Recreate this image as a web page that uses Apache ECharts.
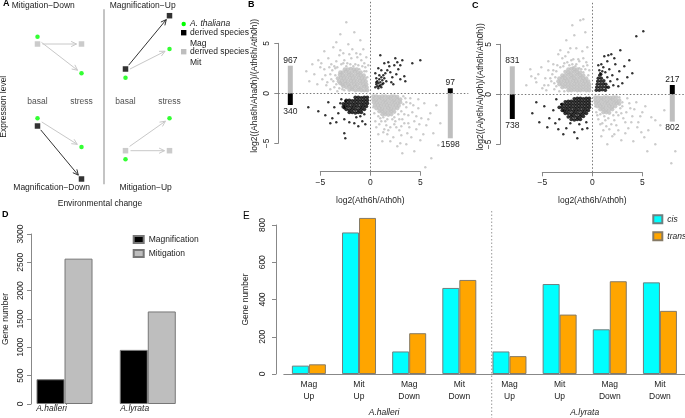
<!DOCTYPE html>
<html>
<head>
<meta charset="utf-8">
<script src="https://cdn.jsdelivr.net/npm/echarts@6.0.0/dist/echarts.min.js"></script>
<style>
html, body { margin: 0; padding: 0; background: #fff; }
#chart { width: 685px; height: 418px; }
</style>
</head>
<body>
<div id="chart"></div>
<script>
// ---- A: schematic, x = 1 basal / 2 stress (left half), 3 basal / 4 stress (right half)
const aConditions = ['basal', 'stress', 'basal', 'stress'];
const aThaliana = [[1, 6.06], [2, 2.4], [3, 1.96], [4, 4.83], [1, -2.1], [2, -4.97], [3, -6.2], [4, -2.1]];
const aDerivedMag = [[3, 2.83], [4, 8.16], [1, -2.87], [2, -8.17]];
const aDerivedMit = [[1, 5.33], [2, 5.33], [3, -5.34], [4, -5.34]];
// [x1, y1, x2, y2]
const aArrowsDark = [[3, 2.83, 4, 8.16], [1, -2.87, 2, -8.17]];
const aArrowsLight = [[1, 5.33, 2, 5.33], [1, 5.8, 2, 2.4], [3, 2.6, 4, 4.83], [1, -2.2, 2, -4.97], [3, -5.34, 4, -5.34], [3, -5.2, 4, -2.1]];

// ---- B: A.halleri vs A.thaliana (sparse genes + dense cores)
const bGrayUp = [[-2.4,7.1],[-3.0,5.9],[-1.6,6.1],[-4.6,4.2],[-5.2,3.3],[-3.7,4.6],[-2.2,4.9],[-1.0,5.3],[-0.7,4.4],[-1.4,4.0],[-3.1,3.8],[-4.2,3.5],[-5.0,2.6],[-5.6,1.9],[-4.8,1.4],[-6.1,1.2],[-4.4,0.8],[-3.6,0.6],[-2.8,0.4],[-6.4,2.2],[-3.4,5.1],[-0.4,3.6],[-0.9,3.3],[-1.9,3.5],[-2.6,3.3],[-3.9,2.9],[-4.6,2.4],[-5.3,0.9],
  [-3.8,2.3],[-3.5,1.8],[-3.3,2.6],[-2.9,2.9],[-2.4,2.7],[-2.0,2.9],[-1.7,2.7],[-1.1,2.4],[-3.6,2.7],[-4.0,1.9],[-2.7,3.0],[-1.2,2.8],[-0.6,2.2],[-0.5,2.6],[-3.4,0.9],[-3.9,1.4],
  [-3.5,2.5],[-3.7,1.2],[-4.1,2.6],[-4.3,1.1],[-3.4,3.2],[-2.3,3.0],[-1.5,2.9],[-0.8,2.7],[-0.4,2.2],[-0.3,1.6],[-2.6,0.3],[-3.1,0.5],[-4.5,1.8],[-4.9,3.0],[-3.0,4.3],[-1.8,4.4],[-2.7,4.0],[-0.6,3.0],[-1.3,3.6],[-2.1,3.9],[-5.8,2.9],[-3.3,0.2],[-4.0,0.4],[-0.2,2.8],[-1.0,3.9]];
const bGrayUpCore = [[-0.3,0.3],[-0.6,0.3],[-0.9,0.3],[-1.2,0.35],[-1.5,0.3],[-1.8,0.4],[-2.1,0.35],
  [-0.35,0.6],[-0.6,0.65],[-0.9,0.6],[-1.2,0.6],[-1.5,0.65],[-1.8,0.6],[-2.1,0.7],[-2.4,0.6],[-2.7,0.7],
  [-0.4,0.9],[-0.7,0.9],[-1.0,0.95],[-1.3,0.9],[-1.6,0.9],[-1.9,0.95],[-2.2,0.9],[-2.5,0.95],[-2.8,0.9],[-3.0,1.0],
  [-0.45,1.2],[-0.75,1.2],[-1.05,1.25],[-1.35,1.2],[-1.65,1.2],[-1.95,1.25],[-2.25,1.2],[-2.55,1.2],[-2.85,1.25],[-3.15,1.2],
  [-0.55,1.5],[-0.85,1.5],[-1.15,1.55],[-1.45,1.5],[-1.75,1.5],[-2.05,1.55],[-2.35,1.5],[-2.65,1.5],[-2.95,1.55],[-3.25,1.5],
  [-0.65,1.8],[-0.95,1.8],[-1.25,1.85],[-1.55,1.8],[-1.85,1.8],[-2.15,1.85],[-2.45,1.8],[-2.75,1.8],[-3.05,1.85],
  [-0.95,2.1],[-1.25,2.1],[-1.55,2.15],[-1.85,2.1],[-2.15,2.1],[-2.45,2.15],[-2.75,2.1],[-3.0,2.1],
  [-1.35,2.4],[-1.65,2.4],[-1.95,2.45],[-2.25,2.4],[-2.55,2.4]];
const bGrayDown = [[0.5,-2.8],[0.9,-3.1],[1.1,-2.8],[1.6,-3.2],[2.0,-3.4],[1.4,-3.6],[2.4,-3.1],[2.5,-2.8],[3.2,-2.6],[3.1,-1.8],[3.3,-1.1],[2.8,-2.1],[1.7,-2.6],[1.3,-2.4],[0.8,-2.3],
  [3.5,-0.5],[3.6,-1.4],[3.8,-2.2],[3.4,-3.0],[2.9,-3.7],[4.0,-1.0],[4.2,-1.9],[4.4,-2.8],[3.9,-3.4],[3.1,-4.2],[2.3,-4.4],[1.7,-4.1],[4.8,-1.5],[4.6,-3.6],[5.1,-2.5],[4.1,-4.4],[5.4,-1.0],[5.6,-3.2],[3.6,-5.1],[2.7,-5.3],[5.0,-4.7],[6.0,-2.0],[6.3,-4.0],[4.4,-5.8],[6.8,-5.2],[6.1,-6.5],[5.5,-7.4],[3.2,-6.0],[1.2,-4.8],[0.8,-4.1],[7.0,-3.0],[6.6,-1.2],
  [3.3,-0.3],[3.6,-0.9],[3.4,-2.1],[2.9,-2.6],[2.2,-2.6],[1.0,-2.5],[0.4,-2.0],[0.3,-1.4],[2.6,-3.4],[1.8,-3.7],[3.8,-3.0],[4.3,-1.2],[4.6,-2.3],[3.7,-4.0],[2.0,-4.8],[4.9,-3.1],[5.3,-4.1],[4.0,-0.5],[3.1,-3.3],[2.4,-2.4],[1.5,-2.8],[0.6,-3.4],[5.8,-2.6],[4.8,-0.6],[1.3,-3.9],[3.0,-5.0]];
const bGrayDownCore = [[0.3,-0.3],[0.6,-0.3],[0.9,-0.35],[1.2,-0.3],[1.5,-0.3],[1.8,-0.35],[2.1,-0.3],[2.4,-0.3],[2.7,-0.35],
  [0.3,-0.6],[0.6,-0.65],[0.9,-0.6],[1.2,-0.6],[1.5,-0.65],[1.8,-0.6],[2.1,-0.6],[2.4,-0.65],[2.7,-0.6],[3.0,-0.6],
  [0.35,-0.9],[0.65,-0.9],[0.95,-0.95],[1.25,-0.9],[1.55,-0.9],[1.85,-0.95],[2.15,-0.9],[2.45,-0.9],[2.75,-0.95],[3.0,-0.9],
  [0.45,-1.2],[0.75,-1.2],[1.05,-1.25],[1.35,-1.2],[1.65,-1.2],[1.95,-1.25],[2.25,-1.2],[2.55,-1.2],[2.85,-1.25],
  [0.6,-1.5],[0.9,-1.5],[1.2,-1.55],[1.5,-1.5],[1.8,-1.5],[2.1,-1.55],[2.4,-1.5],[2.7,-1.5],
  [0.9,-1.8],[1.2,-1.8],[1.5,-1.85],[1.8,-1.8],[2.1,-1.8],[2.4,-1.85],
  [1.2,-2.1],[1.5,-2.1],[1.8,-2.15],[2.1,-2.1]];
const bBlackDown = [[-1.0,-2.3],[-0.6,-2.1],[-1.4,-2.4],[-2.6,-1.5],[-2.5,-0.8],
  [-3.0,-1.0],[-3.2,-2.0],[-3.6,-1.4],[-4.2,-0.9],[-4.5,-2.2],[-5.2,-1.8],[-6.2,-1.4],[-2.6,-2.6],[-2.1,-2.9],[-1.6,-3.0],[-0.8,-2.8],[-0.5,-3.1],[-2.6,-4.0],[-2.5,-4.5],[-3.4,-2.9],[-4.0,-3.0],[-1.2,-3.3],[-2.9,-0.6],[-3.8,-2.5]];
const bBlackDownCore = [[-0.3,-0.4],[-0.6,-0.4],[-0.9,-0.45],[-1.2,-0.4],[-1.5,-0.4],
  [-0.3,-0.7],[-0.6,-0.7],[-0.9,-0.75],[-1.2,-0.7],[-1.5,-0.7],[-1.8,-0.75],[-2.1,-0.7],[-2.4,-0.7],
  [-0.3,-1.0],[-0.6,-1.0],[-0.9,-1.05],[-1.2,-1.0],[-1.5,-1.0],[-1.8,-1.05],[-2.1,-1.0],[-2.4,-1.0],[-2.7,-1.05],
  [-0.4,-1.3],[-0.7,-1.3],[-1.0,-1.35],[-1.3,-1.3],[-1.6,-1.3],[-1.9,-1.35],[-2.2,-1.3],[-2.5,-1.3],[-2.7,-1.35],
  [-0.6,-1.6],[-0.9,-1.6],[-1.2,-1.65],[-1.5,-1.6],[-1.8,-1.6],[-2.1,-1.65],[-2.4,-1.6],
  [-0.9,-1.9],[-1.2,-1.9],[-1.5,-1.95],[-1.8,-1.9],[-2.1,-1.9]];
const bBlackUp = [[0.5,0.6],[0.6,0.9],[0.7,0.7],[0.7,1.2],[0.8,0.5],[0.8,1.0],[0.9,1.4],[1.0,0.8],[1.0,1.1],[1.1,1.6],[1.1,0.6],[1.2,1.3],[1.3,1.0],[1.3,1.8],[1.4,1.5],[1.5,2.0],[0.6,1.5],[0.9,1.8],[1.6,1.2],[1.7,2.3],[2.0,2.1],[2.2,1.6],[2.4,2.8],[2.6,1.9],[2.8,2.4],[3.0,1.4],[3.4,1.7],[3.2,3.3],[2.7,3.1],[1.9,2.7],[1.1,2.3],[0.8,2.5],[1.4,3.0],[1.8,3.1],[2.5,3.5],[3.0,2.8],[1.0,3.8],[4.2,3.0],[5.0,3.3],[0.5,2.0],[0.6,1.1],[1.2,0.9],[0.9,0.7],[2.1,1.1],[3.5,1.2],[2.3,0.9]];
// side bars: [x, from, to, genes, kind 0=Mag 1=Mit]
const bSideBars = [[-8, 0, 2.76, 967, 1], [-8, 0, -1.17, 340, 0], [8, 0, 0.5, 97, 0], [8, 0, -4.5, 1598, 1]];

// ---- C: A.lyrata vs A.thaliana
const cGrayUp = [[-2.0,6.9],[-1.2,7.4],[-0.9,7.5],[-3.4,4.0],[-2.6,5.4],[-1.8,5.9],[-0.7,6.2],[-4.4,3.3],[-3.9,2.4],[-5.1,2.7],[-6.1,1.8],[-6.6,0.9],[-5.6,1.2],[-4.8,0.9],[-4.2,1.6],[-0.5,4.7],[-1.0,4.3],[-1.6,4.6],[-2.4,4.2],[-3.0,3.6],[-2.1,3.4],[-1.3,3.3],[-0.6,3.2],[-5.4,2.0],[-6.2,2.5],[-3.6,0.8],[-4.6,0.4],
  [-2.3,2.9],[-1.7,2.8],[-1.3,2.6],[-1.9,2.7],[-1.6,3.0],[-0.9,2.8],[-2.8,3.1],[-3.7,1.7],[-3.2,2.7],[-0.4,1.9],[-0.9,2.2],[-4.0,2.0],[-3.8,1.1],
  [-3.6,2.3],[-3.8,0.5],[-4.1,1.3],[-3.5,2.9],[-2.9,2.8],[-2.5,3.2],[-2.0,3.0],[-1.1,2.5],[-0.7,2.5],[-0.3,2.4],[-0.5,2.9],[-1.4,3.5],[-2.7,3.8],[-4.4,2.4],[-4.7,1.6],[-5.0,0.6],[-3.3,0.3],[-2.8,0.3],[-1.9,3.5],[-3.9,3.0],[-5.7,1.6],[-4.4,0.9],[-0.9,3.6],[-2.2,4.6],[-3.2,4.4]];
const cGrayUpCore = [[-0.3,0.4],[-0.6,0.4],[-0.9,0.45],[-1.2,0.4],[-1.5,0.4],[-1.8,0.45],[-2.1,0.4],[-2.4,0.4],
  [-0.3,0.7],[-0.6,0.7],[-0.9,0.75],[-1.2,0.7],[-1.5,0.7],[-1.8,0.75],[-2.1,0.7],[-2.4,0.7],[-2.7,0.75],[-3.0,0.7],
  [-0.3,1.0],[-0.6,1.0],[-0.9,1.05],[-1.2,1.0],[-1.5,1.0],[-1.8,1.05],[-2.1,1.0],[-2.4,1.0],[-2.7,1.05],[-3.0,1.0],[-3.3,1.0],
  [-0.4,1.3],[-0.7,1.3],[-1.0,1.35],[-1.3,1.3],[-1.6,1.3],[-1.9,1.35],[-2.2,1.3],[-2.5,1.3],[-2.8,1.35],[-3.1,1.3],[-3.4,1.3],
  [-0.6,1.6],[-0.9,1.6],[-1.2,1.65],[-1.5,1.6],[-1.8,1.6],[-2.1,1.65],[-2.4,1.6],[-2.7,1.6],[-3.0,1.65],[-3.3,1.6],
  [-0.9,1.9],[-1.2,1.9],[-1.5,1.95],[-1.8,1.9],[-2.1,1.9],[-2.4,1.95],[-2.7,1.9],[-3.0,1.9],
  [-1.2,2.2],[-1.5,2.2],[-1.8,2.25],[-2.1,2.2],[-2.4,2.2],[-2.7,2.25],
  [-1.5,2.5],[-1.8,2.5],[-2.1,2.55],[-2.4,2.5]];
const cGrayDown = [[0.6,-2.5],[1.0,-2.9],[1.4,-3.2],[1.9,-3.0],[1.6,-2.4],[2.2,-2.6],[2.6,-2.1],[3.1,-2.4],[2.8,-1.4],[3.0,-0.8],[1.2,-2.2],[0.8,-2.0],
  [3.4,-1.8],[3.7,-0.9],[3.9,-2.8],[4.2,-1.5],[4.5,-3.3],[4.8,-2.2],[5.3,-1.2],[5.6,-3.6],[3.3,-3.9],[2.6,-3.6],[2.0,-4.2],[1.5,-5.0],[6.3,-2.6],[6.8,-3.1],[5.5,-5.7],[6.3,-5.0],[7.9,-6.9],[8.3,-5.7],[4.1,-4.7],[2.9,-4.6],[7.2,-1.6],[0.9,-4.2],
  [2.7,-0.3],[3.0,-1.2],[2.9,-1.9],[2.4,-1.8],[2.1,-2.1],[1.3,-2.6],[0.4,-1.8],[0.3,-1.2],[0.5,-2.1],[3.5,-0.4],[3.8,-1.4],[3.3,-2.8],[2.4,-3.1],[1.7,-3.5],[0.8,-3.0],[4.4,-0.8],[4.0,-2.2],[4.6,-2.8],[5.0,-1.8],[3.6,-3.4],[2.2,-4.0],[5.9,-2.3],[5.2,-4.3],[1.1,-3.6],[4.9,-3.8]];
const cGrayDownCore = [[0.3,-0.3],[0.6,-0.3],[0.9,-0.35],[1.2,-0.3],[1.5,-0.3],[1.8,-0.35],[2.1,-0.3],[2.4,-0.3],
  [0.3,-0.6],[0.6,-0.65],[0.9,-0.6],[1.2,-0.6],[1.5,-0.65],[1.8,-0.6],[2.1,-0.6],[2.4,-0.65],[2.7,-0.6],
  [0.35,-0.9],[0.65,-0.9],[0.95,-0.95],[1.25,-0.9],[1.55,-0.9],[1.85,-0.95],[2.15,-0.9],[2.45,-0.9],[2.7,-0.95],
  [0.5,-1.2],[0.8,-1.2],[1.1,-1.25],[1.4,-1.2],[1.7,-1.2],[2.0,-1.25],[2.3,-1.2],
  [0.8,-1.5],[1.1,-1.5],[1.4,-1.55],[1.7,-1.5],[2.0,-1.5],
  [1.1,-1.8],[1.4,-1.8],[1.7,-1.85]];
const cBlackDown = [[-0.6,-2.8],[-1.3,-3.0],[-2.2,-2.9],[-3.3,-2.5],[-3.1,-1.0],
  [-3.6,-0.5],[-3.9,-1.6],[-4.3,-2.4],[-4.8,-1.2],[-5.3,-2.8],[-6.0,-1.9],[-4.5,-3.3],[-3.4,-3.5],[-2.6,-3.4],[-1.8,-3.8],[-1.0,-3.5],[-0.5,-3.4],[-2.9,-4.0],[-1.5,-4.4],[-5.6,-0.8],[-3.7,-2.9]];
const cBlackDownCore = [[-0.3,-0.4],[-0.6,-0.4],[-0.9,-0.45],[-1.2,-0.4],[-1.5,-0.4],[-1.8,-0.45],
  [-0.3,-0.7],[-0.6,-0.7],[-0.9,-0.75],[-1.2,-0.7],[-1.5,-0.7],[-1.8,-0.75],[-2.1,-0.7],[-2.4,-0.7],[-2.7,-0.75],
  [-0.3,-1.0],[-0.6,-1.0],[-0.9,-1.05],[-1.2,-1.0],[-1.5,-1.0],[-1.8,-1.05],[-2.1,-1.0],[-2.4,-1.0],[-2.7,-1.05],[-3.0,-1.0],
  [-0.3,-1.3],[-0.6,-1.3],[-0.9,-1.35],[-1.2,-1.3],[-1.5,-1.3],[-1.8,-1.35],[-2.1,-1.3],[-2.4,-1.3],[-2.7,-1.35],[-3.0,-1.3],[-3.3,-1.3],
  [-0.4,-1.6],[-0.7,-1.6],[-1.0,-1.65],[-1.3,-1.6],[-1.6,-1.6],[-1.9,-1.65],[-2.2,-1.6],[-2.5,-1.6],[-2.8,-1.65],[-3.0,-1.6],
  [-0.6,-1.9],[-0.9,-1.9],[-1.2,-1.95],[-1.5,-1.9],[-1.8,-1.9],[-2.1,-1.95],[-2.4,-1.9],[-2.7,-1.9],
  [-0.9,-2.2],[-1.2,-2.2],[-1.5,-2.25],[-1.8,-2.2],[-2.1,-2.2],[-2.4,-2.25],
  [-1.2,-2.5],[-1.5,-2.5],[-1.8,-2.55],[-2.1,-2.5]];
const cBlackUp = [[0.9,2.0],[0.7,2.4],[1.1,2.7],[1.3,2.2],[1.5,1.7],[1.7,2.5],[1.8,1.3],[2.0,1.9],[2.1,0.9],[2.3,3.0],[2.5,1.5],[2.7,2.3],[3.0,1.1],[3.2,2.8],[3.5,1.7],[2.2,3.6],[1.5,3.3],[0.9,3.0],[1.9,4.0],[2.8,4.4],[3.7,3.4],[4.4,5.8],[5.1,6.3],[0.6,2.9],[1.2,3.8],[2.6,0.8],[1.0,2.3],[4.0,2.1],[1.6,3.9],[0.8,2.1]];
const cBlackUpCore = [[0.4,0.4],[0.7,0.4],[1.0,0.45],[1.3,0.4],
  [0.45,0.7],[0.75,0.7],[1.05,0.75],[1.35,0.7],[1.6,0.7],
  [0.5,1.0],[0.8,1.0],[1.1,1.05],[1.35,1.0],
  [0.55,1.3],[0.85,1.3],[1.15,1.35],
  [0.6,1.6],[0.9,1.6],[0.75,1.9]];
const cSideBars = [[-8, 0, 2.8, 831, 1], [-8, 0, -2.47, 738, 0], [8, 0, 0.93, 217, 0], [8, 0, -2.73, 802, 1]];

// ---- D: totals
const dSpecies = ['A.halleri', 'A.lyrata'];
const dMagnification = [437, 955];
const dMitigation = [2565, 1633];

// ---- E: cis / trans
const eType = ['Mag', 'Mit', 'Mag', 'Mit', 'Mag', 'Mit', 'Mag', 'Mit'];
const eDirection = ['Up', 'Up', 'Down', 'Down', 'Up', 'Up', 'Down', 'Down'];
const eGroups = ['A.halleri', 'A.lyrata'];
const eCis = [45, 760, 121, 462, 121, 483, 240, 492];
const eTrans = [52, 838, 219, 505, 96, 319, 498, 339];

const FONT = 'Liberation Sans';
const AXIS = '#888';
const TXT = '#222';
const GRAY = '#bebebe';

function arrow(params, api) {
  const p1 = api.coord([api.value(0), api.value(1)]);
  const p2 = api.coord([api.value(2), api.value(3)]);
  const dx = p2[0] - p1[0], dy = p2[1] - p1[1];
  const len = Math.sqrt(dx * dx + dy * dy);
  const ux = dx / len, uy = dy / len;
  const s = [p1[0] + ux * 5, p1[1] + uy * 5];
  const e = [p2[0] - ux * 5, p2[1] - uy * 5];
  const h = 6, a = 0.45;
  const wing = sg => [e[0] - h * (ux * Math.cos(a) - sg * uy * Math.sin(a)), e[1] - h * (uy * Math.cos(a) + sg * ux * Math.sin(a))];
  const color = api.visual('color');
  return {
    type: 'group',
    children: [
      { type: 'line', shape: { x1: s[0], y1: s[1], x2: e[0], y2: e[1] }, style: { stroke: color, lineWidth: 1 } },
      { type: 'polyline', shape: { points: [wing(1), e, wing(-1)] }, style: { stroke: color, fill: null, lineWidth: 1 } }
    ]
  };
}

function sideBar(params, api) {
  const x = api.value(0), to = api.value(2);
  const a = api.coord([x, api.value(1)]);
  const b = api.coord([x, to]);
  const up = to > 0;
  return {
    type: 'group',
    children: [
      { type: 'rect', shape: { x: a[0] - 2.5, y: Math.min(a[1], b[1]), width: 5, height: Math.abs(a[1] - b[1]) },
        style: { fill: api.value(4) === 0 ? '#000' : GRAY } },
      { type: 'text', x: b[0], y: up ? b[1] - 1 : b[1] + 2,
        style: { text: String(api.value(3)), textAlign: 'center', textVerticalAlign: up ? 'bottom' : 'top', fontSize: 8.5, fontFamily: FONT, fill: TXT } }
    ]
  };
}

const hidden = { axisLine: { show: false }, axisTick: { show: false }, axisLabel: { show: false }, splitLine: { show: false } };
const minus = v => String(v).replace('-', '\u2212');

function scatterPanel(xi, name, data, color, size) {
  return { type: 'scatter', name: name, xAxisIndex: xi, yAxisIndex: xi, data: data, symbol: 'circle', symbolSize: size,
    itemStyle: { color: color }, clip: false, silent: true };
}

function auxX(grid, off, withName) {
  return { type: 'value', gridIndex: grid, min: -5, max: 5, interval: 5, offset: off,
    axisLine: { onZero: false, lineStyle: { color: AXIS } }, axisTick: { length: 4, lineStyle: { color: AXIS } },
    axisLabel: { color: TXT, fontSize: 8.5, margin: 6, formatter: minus }, splitLine: { show: false },
    name: withName, nameLocation: 'middle', nameGap: 24, nameTextStyle: { color: TXT, fontSize: 8.5 } };
}
function auxY(grid, off) {
  return { type: 'value', gridIndex: grid, min: -5, max: 5, interval: 5, offset: off,
    axisLine: { onZero: false, lineStyle: { color: AXIS } }, axisTick: { length: 4, lineStyle: { color: AXIS } },
    axisLabel: { color: TXT, fontSize: 8.5, margin: 7, rotate: 90, formatter: minus }, splitLine: { show: false } };
}

const zeroLines = {
  silent: true, symbol: 'none', label: { show: false },
  lineStyle: { color: '#777', type: [1.5, 2], width: 1 },
  data: [{ xAxis: 0 }, { yAxis: 0 }]
};

const chart = echarts.init(document.getElementById('chart'), null, { renderer: 'canvas' });

const option = {
  backgroundColor: '#fff',
  animation: false,
  textStyle: { fontFamily: FONT },
  grid: [
    { left: 2.3, top: 2.3, width: 193.6, height: 185 },      // A
    { left: 278.3, top: 0.3, width: 190, height: 171 },      // B data
    { left: 320.3, top: 43.3, width: 100, height: 100 },     // B axes
    { left: 500.3, top: 1.3, width: 184, height: 171 },      // C data
    { left: 542.3, top: 44.3, width: 100, height: 100 },     // C axes
    { left: 22.6, top: 234, width: 166.8, height: 170 },     // D
    { left: 283.8, top: 225, width: 408, height: 149 }       // E
  ],
  xAxis: [
    Object.assign({ type: 'value', gridIndex: 0, min: 0.2, max: 4.6 }, hidden),
    Object.assign({ type: 'value', gridIndex: 1, min: -9.2, max: 9.8 }, hidden),
    auxX(2, 28.4, 'log2(Ath6h/Ath0h)'),
    Object.assign({ type: 'value', gridIndex: 3, min: -9.2, max: 9.2 }, hidden),
    auxX(4, 28, 'log2(Ath6h/Ath0h)'),
    { type: 'category', gridIndex: 5, data: dSpecies, axisLine: { show: false }, axisTick: { show: false },
      axisLabel: { color: TXT, fontSize: 8.5, fontStyle: 'italic', margin: 0, padding: [0, 26, 0, 0] } },
    { type: 'category', gridIndex: 6, data: eType,
      axisLine: { lineStyle: { color: AXIS } }, axisTick: { alignWithLabel: true, length: 4, lineStyle: { color: AXIS } },
      axisLabel: { color: TXT, fontSize: 8.5, lineHeight: 12, margin: 5, formatter: (v, i) => v + '\n' + eDirection[i] } },
    { type: 'category', gridIndex: 6, data: eGroups, position: 'bottom', axisLine: { show: false }, axisTick: { show: false },
      axisLabel: { color: TXT, fontSize: 8.5, fontStyle: 'italic', margin: 34 } }
  ],
  yAxis: [
    Object.assign({ type: 'value', gridIndex: 0, min: -9, max: 9.5 }, hidden),
    Object.assign({ type: 'value', gridIndex: 1, min: -7.8, max: 9.3, name: 'log2((Aha6h/Aha0h)/(Ath6h/Ath0h))',
      nameLocation: 'middle', nameGap: 19, nameTextStyle: { color: TXT, fontSize: 8.5 } }, hidden),
    auxY(2, 42),
    Object.assign({ type: 'value', gridIndex: 3, min: -7.8, max: 9.3, name: 'log2((Aly6h/Aly0h)/(Ath6h/Ath0h))',
      nameLocation: 'middle', nameGap: 15, nameTextStyle: { color: TXT, fontSize: 8.5 } }, hidden),
    auxY(4, 42.3),
    { type: 'value', gridIndex: 5, min: 0, max: 3000, interval: 500, offset: -8.1,
      axisLine: { show: true, lineStyle: { color: AXIS } }, axisTick: { show: true, length: 4, lineStyle: { color: AXIS } },
      axisLabel: { color: TXT, fontSize: 8.5, rotate: 90, margin: 6, formatter: v => String(v) }, splitLine: { show: false },
      name: 'Gene number', nameLocation: 'middle', nameGap: 21, nameTextStyle: { color: TXT, fontSize: 8.5 } },
    { type: 'value', gridIndex: 6, min: 0, max: 800, interval: 200, offset: 7.8,
      axisLine: { show: true, lineStyle: { color: AXIS } }, axisTick: { show: true, length: 4, lineStyle: { color: AXIS } },
      axisLabel: { color: TXT, fontSize: 8.5, rotate: 90, margin: 9, formatter: v => String(v) }, splitLine: { show: false },
      name: 'Gene number', nameLocation: 'middle', nameGap: 26, nameTextStyle: { color: TXT, fontSize: 8.5 } }
  ],
  legend: [
    { data: ['Magnification', 'Mitigation'], orient: 'vertical', left: 132.7, top: 235, itemWidth: 10, itemHeight: 7,
      itemGap: 5, icon: 'rect', textStyle: { fontSize: 8.5, color: TXT }, padding: 0 },
    { data: ['cis', 'trans'], orient: 'vertical', left: 652.3, top: 214.3, itemWidth: 9, itemHeight: 8,
      itemGap: 7, icon: 'rect', textStyle: { fontSize: 8.5, color: TXT, fontStyle: 'italic' }, padding: 0 }
  ],
  series: [
    // A
    { type: 'custom', name: 'light arrows', xAxisIndex: 0, yAxisIndex: 0, renderItem: arrow, data: aArrowsLight,
      encode: { x: [0, 2], y: [1, 3] }, itemStyle: { color: '#c8c8c8' }, silent: true },
    { type: 'custom', name: 'dark arrows', xAxisIndex: 0, yAxisIndex: 0, renderItem: arrow, data: aArrowsDark,
      encode: { x: [0, 2], y: [1, 3] }, itemStyle: { color: '#333' }, silent: true },
    { type: 'scatter', name: 'A. thaliana', xAxisIndex: 0, yAxisIndex: 0, data: aThaliana, symbol: 'circle', symbolSize: 4.5,
      itemStyle: { color: '#00ff00' }, silent: true,
      markLine: { silent: true, symbol: 'none', label: { show: false },
        data: [
          [{ coord: [2.5, 8.8], lineStyle: { color: '#c4c4c4', width: 2, type: 'solid' } }, { coord: [2.5, -8.7] }],
          [{ coord: [0.2, 0], lineStyle: { color: '#666', width: 1, type: 'solid' } }, { coord: [4.67, 0] }]
        ] } },
    { type: 'scatter', name: 'derived Mag', xAxisIndex: 0, yAxisIndex: 0, data: aDerivedMag, symbol: 'rect', symbolSize: 5.5,
      itemStyle: { color: '#000' }, silent: true },
    { type: 'scatter', name: 'derived Mit', xAxisIndex: 0, yAxisIndex: 0, data: aDerivedMit, symbol: 'rect', symbolSize: 5.5,
      itemStyle: { color: GRAY }, silent: true },
    { type: 'scatter', name: 'conditions', xAxisIndex: 0, yAxisIndex: 0, symbolSize: 0, silent: true,
      data: aConditions.map((c, i) => [i + 1, -0.45, c]),
      label: { show: true, position: 'inside', formatter: p => p.data[2], color: TXT, fontSize: 8.5 } },
    // B
    Object.assign(scatterPanel(1, 'B mit up core', bGrayUpCore, GRAY, 4.2), { markLine: zeroLines }),
    scatterPanel(1, 'B mit up', bGrayUp, GRAY, 2.4),
    scatterPanel(1, 'B mit down core', bGrayDownCore, GRAY, 4.2),
    scatterPanel(1, 'B mit down', bGrayDown, GRAY, 2.4),
    scatterPanel(1, 'B mag down core', bBlackDownCore, '#000', 3.8),
    scatterPanel(1, 'B mag down', bBlackDown, '#000', 2.4),
    scatterPanel(1, 'B mag up', bBlackUp, '#000', 2.4),
    { type: 'custom', name: 'B bars', xAxisIndex: 1, yAxisIndex: 1, renderItem: sideBar, data: bSideBars,
      encode: { x: 0, y: [1, 2] }, silent: true },
    // C
    Object.assign(scatterPanel(3, 'C mit up core', cGrayUpCore, GRAY, 4.2), { markLine: zeroLines }),
    scatterPanel(3, 'C mit up', cGrayUp, GRAY, 2.4),
    scatterPanel(3, 'C mit down core', cGrayDownCore, GRAY, 4.2),
    scatterPanel(3, 'C mit down', cGrayDown, GRAY, 2.4),
    scatterPanel(3, 'C mag down core', cBlackDownCore, '#000', 3.8),
    scatterPanel(3, 'C mag down', cBlackDown, '#000', 2.4),
    scatterPanel(3, 'C mag up core', cBlackUpCore, '#000', 3.6),
    scatterPanel(3, 'C mag up', cBlackUp, '#000', 2.4),
    { type: 'custom', name: 'C bars', xAxisIndex: 3, yAxisIndex: 3, renderItem: sideBar, data: cSideBars,
      encode: { x: 0, y: [1, 2] }, silent: true },
    // D
    { type: 'bar', name: 'Magnification', xAxisIndex: 5, yAxisIndex: 5, data: dMagnification, barWidth: 28, barGap: '0%',
      itemStyle: { color: '#000', borderColor: '#777', borderWidth: 1 }, silent: true },
    { type: 'bar', name: 'Mitigation', xAxisIndex: 5, yAxisIndex: 5, data: dMitigation, barWidth: 28, barGap: '0%',
      itemStyle: { color: GRAY, borderColor: '#777', borderWidth: 1 }, silent: true },
    // E
    { type: 'bar', name: 'cis', xAxisIndex: 6, yAxisIndex: 6, data: eCis, barWidth: 17, barGap: '0%', clip: false,
      itemStyle: { color: '#00ffff', borderColor: '#6f7f7f', borderWidth: 1 }, silent: true },
    { type: 'bar', name: 'trans', xAxisIndex: 6, yAxisIndex: 6, data: eTrans, barWidth: 17, barGap: '0%', clip: false,
      itemStyle: { color: '#ffa500', borderColor: '#857a66', borderWidth: 1 }, silent: true }
  ],
  graphic: [
    // panel letters
    { type: 'text', x: 3, y: 4, style: { text: 'A', font: 'bold 9px ' + FONT, fill: '#000', textVerticalAlign: 'middle' } },
    { type: 'text', x: 248, y: 5, style: { text: 'B', font: 'bold 9px ' + FONT, fill: '#000', textVerticalAlign: 'middle' } },
    { type: 'text', x: 472, y: 6, style: { text: 'C', font: 'bold 9px ' + FONT, fill: '#000', textVerticalAlign: 'middle' } },
    { type: 'text', x: 2, y: 215, style: { text: 'D', font: 'bold 9px ' + FONT, fill: '#000', textVerticalAlign: 'middle' } },
    { type: 'text', x: 243, y: 216, style: { text: 'E', font: '10px ' + FONT, fill: '#000', textVerticalAlign: 'middle' } },
    // panel A texts
    { type: 'text', x: 43.3, y: 6, style: { text: 'Mitigation\u2212Down', font: '8.5px ' + FONT, fill: TXT, textAlign: 'center', textVerticalAlign: 'middle' } },
    { type: 'text', x: 142.7, y: 6, style: { text: 'Magnification\u2212Up', font: '8.5px ' + FONT, fill: TXT, textAlign: 'center', textVerticalAlign: 'middle' } },
    { type: 'text', x: 51.7, y: 187.3, style: { text: 'Magnification\u2212Down', font: '8.5px ' + FONT, fill: TXT, textAlign: 'center', textVerticalAlign: 'middle' } },
    { type: 'text', x: 145.7, y: 187.3, style: { text: 'Mitigation\u2212Up', font: '8.5px ' + FONT, fill: TXT, textAlign: 'center', textVerticalAlign: 'middle' } },
    { type: 'text', x: 100, y: 203.3, style: { text: 'Environmental change', font: '8.5px ' + FONT, fill: TXT, textAlign: 'center', textVerticalAlign: 'middle' } },
    { type: 'text', x: 4, y: 106.7, rotation: Math.PI / 2, style: { text: 'Expression level', font: '8.5px ' + FONT, fill: TXT, textAlign: 'center', textVerticalAlign: 'middle' } },
    // panel A key
    { type: 'circle', shape: { cx: 183.7, cy: 24, r: 2.2 }, style: { fill: '#00ff00' } },
    { type: 'text', x: 190, y: 24, style: { text: 'A. thaliana', font: 'italic 8.5px ' + FONT, fill: TXT, textVerticalAlign: 'middle' } },
    { type: 'rect', shape: { x: 181, y: 30, width: 5.4, height: 5.4 }, style: { fill: '#000' } },
    { type: 'text', x: 190, y: 32.7, style: { text: 'derived species', font: '8.5px ' + FONT, fill: TXT, textVerticalAlign: 'middle' } },
    { type: 'text', x: 190, y: 43.3, style: { text: 'Mag', font: '8.5px ' + FONT, fill: TXT, textVerticalAlign: 'middle' } },
    { type: 'rect', shape: { x: 181, y: 49, width: 5.4, height: 5.4 }, style: { fill: GRAY } },
    { type: 'text', x: 190, y: 51.7, style: { text: 'derived species', font: '8.5px ' + FONT, fill: TXT, textVerticalAlign: 'middle' } },
    { type: 'text', x: 190, y: 62.3, style: { text: 'Mit', font: '8.5px ' + FONT, fill: TXT, textVerticalAlign: 'middle' } },
    // E: dotted separator between species
    { type: 'line', shape: { x1: 491.7, y1: 211, x2: 491.7, y2: 418 }, style: { stroke: '#999', lineWidth: 1, lineDash: [1.5, 2] } }
  ]
};

chart.setOption(option);
</script>
</body>
</html>
